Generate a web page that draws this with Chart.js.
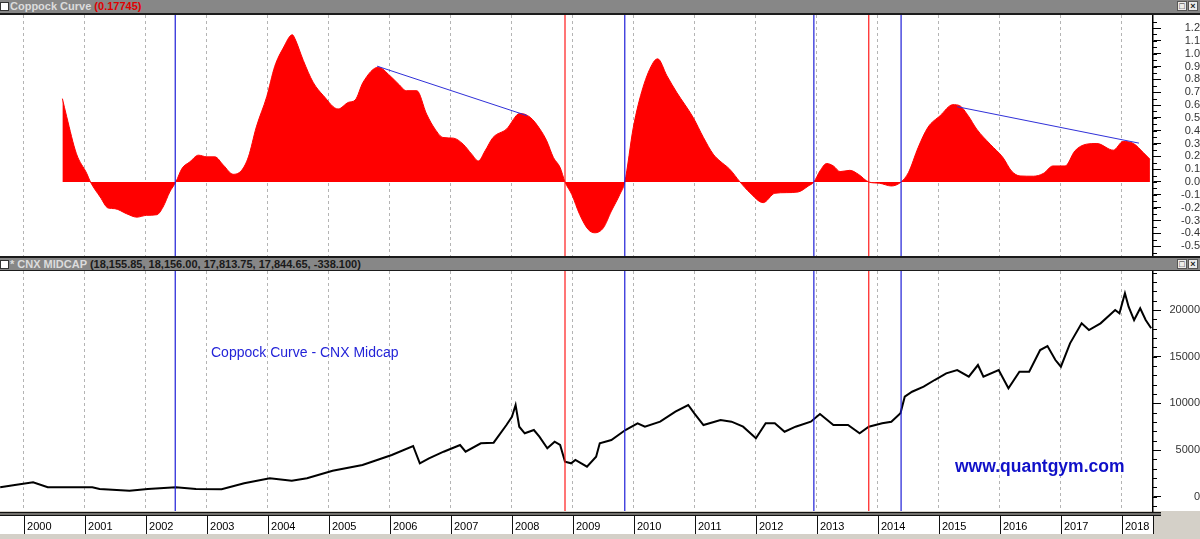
<!DOCTYPE html>
<html lang="en">
  <head>
    <meta charset="utf-8" />
    <title>Coppock Curve - CNX Midcap</title>
    <script src="https://cdn.jsdelivr.net/npm/chart.js@4.4.1/dist/chart.umd.min.js"></script>
    <style>
      body {
        margin: 0;
        width: 1200px;
        height: 539px;
        overflow: hidden;
        position: relative;
        background: #d4d0c8;
        font-family: "Liberation Sans", Arial, sans-serif;
      }
      .bar {
        position: absolute;
        left: 0;
        width: 1200px;
        background: #878787;
        font: bold 11px "Liberation Sans", Arial, sans-serif;
        line-height: 12px;
        white-space: nowrap;
      }
      .chk {
        position: absolute;
        left: 0;
        top: 2px;
        width: 7px;
        height: 7px;
        background: #fff;
        border: 1px solid #333;
      }
      .ttl { position: absolute; left: 10px; top: 0; color: #dcdcdc; }
      .btn {
        position: absolute;
        top: 1px;
        width: 8px;
        height: 8px;
        background: #ececec;
        border: 1px solid #555;
        font: bold 9px "Liberation Sans", Arial, sans-serif;
        line-height: 8px;
        text-align: center;
        color: #222;
      }
      canvas { position: absolute; left: 0; }
      .note { position: absolute; white-space: nowrap; z-index: 2; }
    </style>
  </head>
  <body>
    <!-- top panel header -->
    <div class="bar" style="top: 0; height: 13px; border-bottom: 2px solid #1b1b1b">
      <span class="chk"></span>
      <span class="ttl">Coppock Curve <span style="color: #e00000">(0.17745)</span></span>
      <span class="btn" style="left: 1177px">&#9633;</span>
      <span class="btn" style="left: 1188px">&times;</span>
    </div>
    <canvas id="coppock" width="1200" height="241" style="top: 15px"></canvas>

    <!-- bottom panel header -->
    <div class="bar" style="top: 256px; height: 12px; border-top: 2px solid #1b1b1b; border-bottom: 1px solid #1b1b1b">
      <span class="chk"></span>
      <span class="ttl">* CNX MIDCAP <span style="color: #1a1a1a">(18,155.85, 18,156.00, 17,813.75, 17,844.65, -338.100)</span></span>
      <span class="btn" style="left: 1177px">&#9633;</span>
      <span class="btn" style="left: 1188px">&times;</span>
    </div>
    <canvas id="midcap" width="1200" height="268" style="top: 271px"></canvas>

    <div class="note" style="left: 211px; top: 345px; font-size: 14px; line-height: 14px; color: #2424d8">Coppock Curve - CNX Midcap</div>
    <div class="note" style="left: 955px; top: 457px; font-size: 17.5px; line-height: 18px; font-weight: bold; color: #1010c8">www.quantgym.com</div>

    <script>
      // x axis in decimal years
      var yearTicks = [2000, 2001, 2002, 2003, 2004, 2005, 2006, 2007, 2008, 2009,
        2010, 2011, 2012, 2013, 2014, 2015, 2016, 2017, 2018];

      // coppock curve
      var coppockYears = [2000.63, 2000.70, 2000.86, 2001.03, 2001.09, 2001.25, 2001.38, 2001.49, 2001.68, 2001.85,
        2002.01, 2002.18, 2002.28, 2002.39, 2002.49, 2002.59, 2002.72, 2002.86, 2003.00, 2003.13,
        2003.27, 2003.43, 2003.57, 2003.68, 2003.81, 2003.98, 2004.11, 2004.25, 2004.40, 2004.44,
        2004.58, 2004.74, 2004.91, 2005.15, 2005.32, 2005.43, 2005.56, 2005.81, 2006.00, 2006.14,
        2006.27, 2006.44, 2006.60, 2006.74, 2006.87, 2007.04, 2007.20, 2007.34, 2007.45, 2007.56,
        2007.69, 2007.91, 2008.13, 2008.30, 2008.46, 2008.57, 2008.68, 2008.79, 2008.87, 2008.98,
        2009.11, 2009.25, 2009.36, 2009.50, 2009.63, 2009.77, 2009.85, 2009.99, 2010.15, 2010.32,
        2010.39, 2010.54, 2010.70, 2010.97, 2011.14, 2011.30, 2011.41, 2011.57, 2011.74, 2011.90,
        2012.12, 2012.31, 2012.50, 2012.69, 2012.86, 2012.95, 2013.05, 2013.16, 2013.27, 2013.38,
        2013.54, 2013.68, 2013.85, 2014.03, 2014.22, 2014.38, 2014.50, 2014.66, 2014.82, 2015.02,
        2015.23, 2015.34, 2015.48, 2015.62, 2015.84, 2016.05, 2016.19, 2016.33, 2016.55, 2016.71,
        2016.87, 2017.07, 2017.23, 2017.42, 2017.59, 2017.86, 2018.02, 2018.19, 2018.35, 2018.46];
      var coppockValues = [0.65, 0.51, 0.22, 0.066, 0, -0.117, -0.203, -0.208, -0.247, -0.274,
        -0.26, -0.255, -0.195, -0.078, 0, 0.105, 0.157, 0.209, 0.196, 0.196,
        0.131, 0.06, 0.092, 0.196, 0.43, 0.665, 0.9, 1.044, 1.148, 1.12,
        0.947, 0.778, 0.673, 0.569, 0.621, 0.639, 0.778, 0.895, 0.829, 0.764,
        0.712, 0.712, 0.53, 0.412, 0.347, 0.342, 0.295, 0.217, 0.164, 0.243,
        0.347, 0.412, 0.535, 0.504, 0.412, 0.321, 0.191, 0.113, 0, -0.096,
        -0.253, -0.37, -0.396, -0.357, -0.227, -0.096, 0, 0.426, 0.739, 0.934,
        0.96, 0.829, 0.7, 0.504, 0.347, 0.217, 0.164, 0.1, 0, -0.083,
        -0.161, -0.088, -0.083, -0.078, -0.031, 0, 0.086, 0.144, 0.125, 0.081,
        0.091, 0.06, 0, -0.01, -0.031, 0, 0.073, 0.269, 0.426, 0.517,
        0.603, 0.595, 0.517, 0.412, 0.295, 0.191, 0.086, 0.047, 0.045, 0.066,
        0.125, 0.125, 0.243, 0.295, 0.3, 0.248, 0.316, 0.3, 0.23, 0.177];
      var coppockTicks = [-0.5, -0.4, -0.3, -0.2, -0.1, 0, 0.1, 0.2, 0.3, 0.4, 0.5, 0.6,
        0.7, 0.8, 0.9, 1.0, 1.1, 1.2];

      // blue divergence lines on the coppock panel
      var trendAYears = [2005.79, 2008.25];
      var trendAValues = [0.903, 0.517];
      var trendBYears = [2015.30, 2018.28];
      var trendBValues = [0.587, 0.303];

      // signal lines across both panels
      var blueSignalYears = [2002.48, 2009.85, 2012.95, 2014.38];
      var redSignalYears = [2008.87, 2013.85];

      // CNX Midcap index
      var priceYears = [1999.61, 1999.85, 2000.15, 2000.39, 2000.70, 2001.12, 2001.24, 2001.73, 2002.03, 2002.49,
        2002.82, 2003.24, 2003.61, 2004.03, 2004.39, 2004.64, 2005.06, 2005.55, 2005.79, 2006.03,
        2006.38, 2006.49, 2006.64, 2006.88, 2007.15, 2007.24, 2007.49, 2007.70, 2007.91, 2008.00,
        2008.06, 2008.12, 2008.21, 2008.36, 2008.45, 2008.58, 2008.70, 2008.79, 2008.87, 2008.97,
        2009.04, 2009.23, 2009.38, 2009.44, 2009.63, 2009.86, 2010.06, 2010.18, 2010.43, 2010.68,
        2010.89, 2010.99, 2011.14, 2011.42, 2011.60, 2011.79, 2012.00, 2012.16, 2012.31, 2012.47,
        2012.65, 2012.90, 2013.05, 2013.27, 2013.51, 2013.70, 2013.85, 2014.07, 2014.22, 2014.37,
        2014.44, 2014.56, 2014.75, 2014.93, 2015.12, 2015.30, 2015.49, 2015.64, 2015.73, 2015.98,
        2016.14, 2016.32, 2016.48, 2016.66, 2016.78, 2016.91, 2017.00, 2017.15, 2017.34, 2017.46,
        2017.65, 2017.89, 2017.96, 2018.05, 2018.11, 2018.20, 2018.30, 2018.39, 2018.48];
      var priceValues = [1007, 1253, 1542, 1007, 1007, 1007, 825, 643, 825, 1007,
        825, 790, 1435, 1971, 1714, 1971, 2785, 3395, 3931, 4467,
        5430, 3578, 4113, 4820, 5538, 4820, 5720, 5784, 7680, 8569,
        9822, 7498, 6791, 7144, 6427, 5184, 5891, 5538, 3749, 3578,
        3931, 3213, 4285, 5720, 6073, 7144, 7862, 7498, 8034, 9105,
        9822, 8933, 7680, 8216, 8034, 7498, 6255, 7862, 7862, 6962,
        7498, 8034, 8858, 7680, 7680, 6791, 7498, 7862, 8034, 8933,
        10711, 11247, 11782, 12500, 13218, 13571, 12853, 14107, 12853, 13571,
        11611, 13389, 13389, 15713, 16142, 14642, 13925, 16431, 18573, 17856,
        18573, 19998, 19644, 21787, 20351, 18927, 20180, 18927, 18038];
      var priceTicks = [0, 5000, 10000, 15000, 20000];

      var X_MIN = 1999.607;
      var X_MAX = 2018.51;

      Chart.defaults.font.family = '"Liberation Sans", Arial, sans-serif';
      Chart.defaults.font.size = 11;

      function toPoints(xs, ys) {
        return xs.map(function (x, i) {
          return { x: x, y: ys[i] };
        });
      }

      // backgrounds, signal lines, minor ticks and the date strip
      const panel = {
        id: "panel",
        beforeDraw(chart, args, opts) {
          const { ctx, chartArea: a, width, height } = chart;
          ctx.save();
          ctx.fillStyle = "#d4d0c8";
          ctx.fillRect(0, 0, width, height);
          ctx.fillStyle = "#fff";
          ctx.fillRect(0, 0, width, a.bottom);
          if (opts.strip) {
            const x = chart.scales.x;
            const t = a.bottom;
            ctx.fillRect(0, t + 5, a.right, 18);
            ctx.fillStyle = "#111";
            ctx.fillRect(0, t + 1, a.right + 8, 1.5);
            ctx.fillRect(0, t + 3.5, a.right + 8, 1.5);
            ctx.strokeStyle = "#111";
            ctx.lineWidth = 1;
            yearTicks.forEach(function (yr) {
              const px = Math.round(x.getPixelForValue(yr)) + 0.5;
              ctx.beginPath();
              ctx.moveTo(px, t + 5);
              ctx.lineTo(px, t + 23);
              ctx.stroke();
            });
            ctx.beginPath();
            ctx.moveTo(a.right + 0.5, t + 5);
            ctx.lineTo(a.right + 0.5, t + 23);
            ctx.stroke();
          }
          ctx.restore();
        },
        afterDatasetsDraw(chart) {
          const { ctx, chartArea: a } = chart;
          const x = chart.scales.x;
          ctx.save();
          ctx.setLineDash([]);
          ctx.lineWidth = 1.2;
          ctx.globalAlpha = 1;
          function vline(yr, color) {
            const px = x.getPixelForValue(yr);
            ctx.strokeStyle = color;
            ctx.beginPath();
            ctx.moveTo(px, a.top);
            ctx.lineTo(px, a.bottom);
            ctx.stroke();
          }
          blueSignalYears.forEach(function (yr) { vline(yr, "rgb(30,30,215)"); });
          redSignalYears.forEach(function (yr) { vline(yr, "rgb(255,25,25)"); });
          ctx.restore();
        },
        afterDraw(chart, args, opts) {
          const { ctx, chartArea: a } = chart;
          const y = chart.scales.y;
          ctx.save();
          ctx.strokeStyle = "#000";
          ctx.lineWidth = 1;
          for (let v = opts.minorFrom; v <= opts.minorTo + 1e-9; v += opts.minorStep) {
            const py = Math.round(y.getPixelForValue(v)) + 0.5;
            if (py < a.top || py > a.bottom) continue;
            ctx.beginPath();
            ctx.moveTo(a.right, py);
            ctx.lineTo(a.right + 4, py);
            ctx.stroke();
          }
          ctx.restore();
        },
      };

      function xScale(withLabels) {
        return {
          type: "linear",
          min: X_MIN,
          max: X_MAX,
          afterBuildTicks: function (s) {
            s.ticks = yearTicks.map(function (v) { return { value: v }; });
          },
          afterFit: function (s) {
            s.height = withLabels ? 28 : 0;
            s.paddingLeft = 0;
            s.paddingRight = 0;
          },
          ticks: {
            display: withLabels,
            align: "start",
            padding: 9,
            autoSkip: false,
            maxRotation: 0,
            color: "#000",
            font: { size: 11 },
            callback: function (v) { return " " + v; },
          },
          grid: { color: "#b4b4b4", lineWidth: 1, drawTicks: false },
          border: { display: false, dash: [3, 3] },
        };
      }

      function yScale(min, max, ticks, pad, fmt) {
        return {
          position: "right",
          min: min,
          max: max,
          afterBuildTicks: function (s) {
            s.ticks = ticks.map(function (v) { return { value: v }; });
          },
          afterFit: function (s) {
            s.width = 47;
            s.paddingTop = 0;
            s.paddingBottom = 0;
          },
          ticks: { callback: fmt, autoSkip: false, crossAlign: "far", padding: pad, color: "#333", font: { size: 11 } },
          grid: { drawOnChartArea: false, drawTicks: true, tickLength: 8, tickColor: "#000", tickWidth: 1 },
          border: { display: true, color: "#000", width: 1.5 },
        };
      }

      new Chart(document.getElementById("coppock"), {
        type: "line",
        data: {
          datasets: [
            { data: toPoints(trendAYears, trendAValues), borderColor: "#3030d8", borderWidth: 1, pointRadius: 0, fill: false },
            { data: toPoints(trendBYears, trendBValues), borderColor: "#3030d8", borderWidth: 1, pointRadius: 0, fill: false },
            {
              data: toPoints(coppockYears, coppockValues),
              borderColor: "#ff0000",
              backgroundColor: "#ff0000",
              borderWidth: 1,
              pointRadius: 0,
              fill: "origin",
              cubicInterpolationMode: "monotone",
            },
          ],
        },
        options: {
          responsive: false,
          animation: false,
          events: [],
          layout: { padding: 0 },
          plugins: {
            legend: { display: false },
            tooltip: { enabled: false },
            panel: { minorFrom: -0.55, minorTo: 1.25, minorStep: 0.05 },
          },
          scales: {
            x: xScale(false),
            y: yScale(-0.577, 1.302, coppockTicks, 16, function (v) { return v.toFixed(1); }),
          },
        },
        plugins: [panel],
      });

      new Chart(document.getElementById("midcap"), {
        type: "line",
        data: {
          datasets: [
            {
              data: toPoints(priceYears, priceValues),
              borderColor: "#000",
              borderWidth: 2,
              pointRadius: 0,
              tension: 0,
              fill: false,
            },
          ],
        },
        options: {
          responsive: false,
          animation: false,
          events: [],
          layout: { padding: 0 },
          plugins: {
            legend: { display: false },
            tooltip: { enabled: false },
            panel: { strip: true, minorFrom: -1000, minorTo: 24000, minorStep: 1000 },
          },
          scales: {
            x: xScale(true),
            y: yScale(-1532, 24178, priceTicks, 4, function (v) { return String(v); }),
          },
        },
        plugins: [panel],
      });
    </script>
  </body>
</html>
